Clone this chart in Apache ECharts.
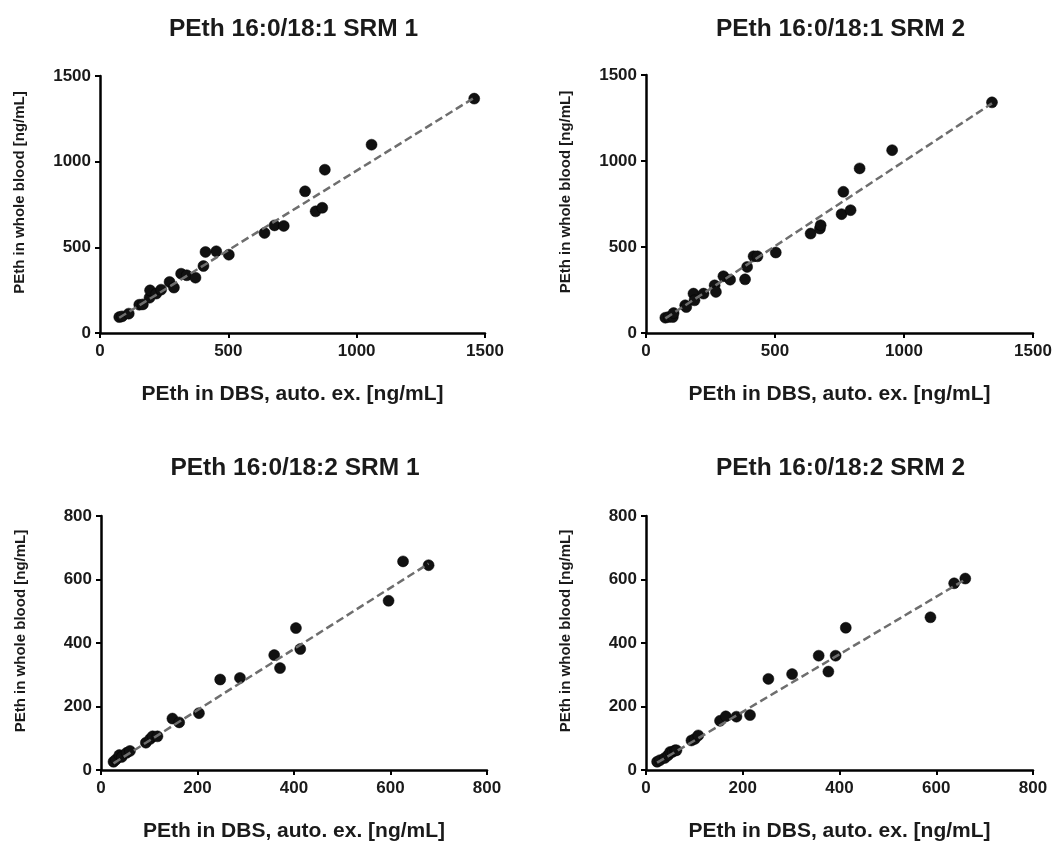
<!DOCTYPE html>
<html>
<head>
<meta charset="utf-8">
<script src="https://cdn.jsdelivr.net/npm/echarts@6/dist/echarts.min.js"></script>
<style>html,body{margin:0;padding:0;background:#fff}#c{width:1056px;height:843px}</style>
</head>
<body>
<div id="c"></div>
<script>
// Panel titles
var titles = ['PEth 16:0/18:1 SRM 1', 'PEth 16:0/18:1 SRM 2', 'PEth 16:0/18:2 SRM 1', 'PEth 16:0/18:2 SRM 2'];
var xAxisTitle = 'PEth in DBS, auto. ex. [ng/mL]';
var yAxisTitle = 'PEth in whole blood [ng/mL]';

// Axis ranges and tick intervals
var axisMax = [1500, 1500, 800, 800];
var axisInterval = [500, 500, 200, 200];

// Panel 1: PEth 16:0/18:1 SRM 1
var x1 = [75, 86, 112, 153, 167, 193, 195, 219, 238, 271, 288, 316, 338, 372, 403, 411, 453, 502, 641, 680, 716, 799, 840, 866, 876, 1058, 1458];
var y1 = [93, 97, 113, 165, 167, 206, 249, 230, 253, 298, 265, 346, 337, 323, 391, 473, 477, 457, 584, 628, 625, 827, 710, 731, 953, 1099, 1368];
var fitX1 = [75, 1458];
var fitY1 = [89, 1373];

// Panel 2: PEth 16:0/18:1 SRM 2
var x2 = [75, 88, 104, 107, 152, 156, 184, 188, 223, 266, 271, 300, 326, 384, 392, 417, 432, 503, 638, 674, 677, 758, 765, 793, 828, 954, 1341];
var y2 = [89, 93, 93, 116, 161, 151, 229, 190, 229, 277, 239, 330, 310, 312, 384, 446, 446, 468, 578, 607, 627, 691, 821, 714, 957, 1063, 1341];
var fitX2 = [75, 1341];
var fitY2 = [85, 1335];

// Panel 3: PEth 16:0/18:2 SRM 1
var x3 = [26, 31, 38, 43, 53, 60, 93, 102, 107, 117, 148, 162, 203, 247, 288, 359, 371, 404, 413, 596, 626, 679];
var y3 = [26, 33, 47, 41, 54, 60, 86, 98, 106, 106, 162, 150, 179, 285, 290, 362, 321, 447, 381, 533, 657, 645];
var fitX3 = [26, 679];
var fitY3 = [21, 650];

// Panel 4: PEth 16:0/18:2 SRM 2
var x4 = [23, 29, 39, 46, 50, 55, 60, 63, 94, 101, 108, 153, 165, 187, 215, 253, 302, 357, 377, 392, 413, 588, 637, 660];
var y4 = [26, 31, 38, 47, 57, 57, 62, 62, 93, 98, 109, 155, 169, 168, 173, 287, 302, 360, 310, 360, 448, 481, 588, 603];
var fitX4 = [23, 660];
var fitY4 = [23, 600];

var xs = [x1, x2, x3, x4], ys = [y1, y2, y3, y4];
var fxs = [fitX1, fitX2, fitX3, fitX4], fys = [fitY1, fitY2, fitY3, fitY4];

var grids = [
  {left: 100, top: 76, width: 385, height: 257},
  {left: 646, top: 75, width: 387, height: 258},
  {left: 101, top: 516, width: 386, height: 257},
  {left: 646, top: 516, width: 387, height: 257}
];
var titleTops = [12, 12, 451, 451];

function zip(a, b) { return a.map(function (v, i) { return [v, b[i]]; }); }
function plain(v) { return String(v); }

var FONT = '"Liberation Sans", Arial, sans-serif';
var TXT = '#1a1a1a';

var option = {
  backgroundColor: '#fff',
  animation: false,
  title: titles.map(function (t, i) {
    return {
      text: t,
      left: grids[i].left + grids[i].width / 2 - 4,
      top: titleTops[i],
      textAlign: 'center',
      textStyle: {fontFamily: FONT, fontWeight: 'bold', fontSize: 24.5, color: TXT}
    };
  }),
  grid: grids,
  xAxis: grids.map(function (g, i) {
    return {
      type: 'value', gridIndex: i, min: 0, max: axisMax[i], interval: axisInterval[i],
      name: xAxisTitle, nameLocation: 'middle', nameGap: 51,
      nameTextStyle: {fontFamily: FONT, fontWeight: 'bold', fontSize: 21, color: TXT},
      axisLine: {show: true, onZero: false, lineStyle: {color: '#000', width: 2.5}},
      axisTick: {show: true, length: 5, lineStyle: {color: '#000', width: 2}},
      axisLabel: {margin: 10, formatter: plain, fontFamily: FONT, fontWeight: 'bold', fontSize: 17, color: TXT},
      splitLine: {show: false}
    };
  }),
  yAxis: grids.map(function (g, i) {
    return {
      type: 'value', gridIndex: i, min: 0, max: axisMax[i], interval: axisInterval[i],
      name: yAxisTitle, nameLocation: 'middle', nameGap: 73,
      nameTextStyle: {fontFamily: FONT, fontWeight: 'bold', fontSize: 15, color: TXT, padding: [0, 0, 0, 24]},
      axisLine: {show: true, onZero: false, lineStyle: {color: '#000', width: 2.5}},
      axisTick: {show: true, length: 5, lineStyle: {color: '#000', width: 2}},
      axisLabel: {margin: 9, formatter: plain, fontFamily: FONT, fontWeight: 'bold', fontSize: 17, color: TXT},
      splitLine: {show: false}
    };
  }),
  series: [].concat(
    xs.map(function (x, i) {
      return {
        type: 'scatter', xAxisIndex: i, yAxisIndex: i, z: 2,
        symbol: 'circle', symbolSize: 11,
        itemStyle: {color: '#111', opacity: 1, borderColor: '#000', borderWidth: 0.5},
        data: zip(x, ys[i])
      };
    }),
    fxs.map(function (fx, i) {
      return {
        type: 'line', xAxisIndex: i, yAxisIndex: i, z: 3,
        symbol: 'none', silent: true,
        lineStyle: {color: '#6e6e6e', width: 2.5, type: [8, 4]},
        data: zip(fx, fys[i])
      };
    })
  )
};

var chart = echarts.init(document.getElementById('c'), null, {renderer: 'canvas'});
chart.setOption(option);
</script>
</body>
</html>
